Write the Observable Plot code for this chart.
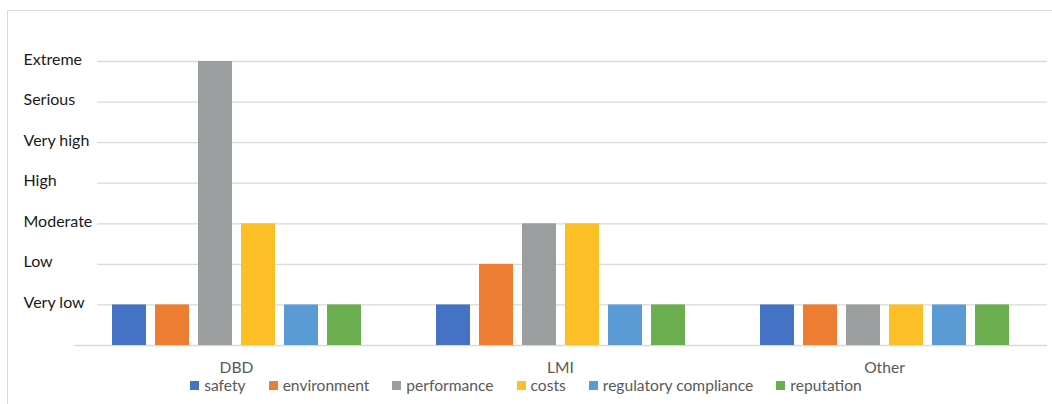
<!DOCTYPE html>
<html>
<head>
<meta charset="utf-8">
<script src="https://cdn.jsdelivr.net/npm/d3@7"></script>
<script src="https://cdn.jsdelivr.net/npm/@observablehq/plot@0.6"></script>
<style>
  html, body { margin: 0; padding: 0; background: #fff; }
  body { position: relative; width: 1052px; height: 404px; overflow: hidden; font-family: Lato, "Open Sans", sans-serif; }
  .layer { position: absolute; left: 0; top: 0; }
  .layer svg { background: transparent !important; }
  #frame { position: absolute; left: 7px; top: 10px; width: 1100px; height: 500px; border: 1px solid #d9d9d9; box-sizing: border-box; pointer-events: none; }
  #legend { position: absolute; left: 0; top: 375px; width: 1052px; height: 20px; display: flex; justify-content: center; align-items: center; gap: 23px; font-size: 15.6px; color: #595959; line-height: 20px; }
  #legend .item { display: flex; align-items: center; gap: 5px; white-space: nowrap; }
  #legend .sw { width: 9px; height: 9px; display: inline-block; }
</style>
</head>
<body>
<div id="grid" class="layer"></div>
<div id="bars" class="layer"></div>
<div id="legend"></div>
<div id="frame"></div>
<script>
// Severity scale shown on the vertical axis (1 = Very low ... 7 = Extreme)
const levels = ["Very low", "Low", "Moderate", "High", "Very high", "Serious", "Extreme"];
const levelValues = [1, 2, 3, 4, 5, 6, 7];

// Groups and impact categories
const groups = ["DBD", "LMI", "Other"];
const series = ["safety", "environment", "performance", "costs", "regulatory compliance", "reputation"];

// Severity per category, one array per group
const dbdValues = [1, 1, 7, 3, 1, 1];
const lmiValues = [1, 2, 3, 3, 1, 1];
const otherValues = [1, 1, 1, 1, 1, 1];

const seriesColors = ["#4472C4", "#ED7D31", "#9B9E9E", "#FDBF26", "#5B9BD5", "#6BAE4F"];

const valuesByGroup = {DBD: dbdValues, LMI: lmiValues, Other: otherValues};
const rows = groups.flatMap(g => series.map((s, i) => ({group: g, series: s, value: valuesByGroup[g][i]})));

const W = 1052, H = 376, MT = 61, MB = 31, MR = 5;

// Background layer: gridlines and severity labels
const gridPlot = Plot.plot({
  width: W, height: H,
  marginTop: MT, marginBottom: MB, marginLeft: 97, marginRight: MR,
  style: {fontFamily: "Lato, 'Open Sans', sans-serif", fontSize: "16px", background: "transparent"},
  y: {domain: [0, 7], axis: null},
  marks: [
    Plot.ruleY(levelValues, {stroke: "#d9d9d9", strokeWidth: 1.3}),
    Plot.ruleY([0], {stroke: "#d9d9d9", strokeWidth: 1.3, insetLeft: -23}),
    Plot.text(levels, {
      y: (d, i) => levelValues[i],
      text: d => d,
      frameAnchor: "left",
      dx: -74,
      dy: -2,
      textAnchor: "start",
      fill: "#1a1a1a",
      fontSize: 16
    })
  ]
});
document.getElementById("grid").appendChild(gridPlot);

// Foreground layer: grouped bars
const barPlot = Plot.plot({
  width: W, height: H,
  marginTop: MT, marginBottom: MB, marginLeft: 73, marginRight: MR,
  style: {fontFamily: "Lato, 'Open Sans', sans-serif", fontSize: "15.6px", color: "#595959", background: "transparent"},
  facet: {data: rows, x: "group"},
  fx: {domain: groups, padding: 0, axis: "bottom", tickSize: 0, tickPadding: 16, label: null},
  x: {domain: series, axis: null, paddingInner: 0.215, paddingOuter: 0.85},
  y: {domain: [0, 7], axis: null},
  color: {domain: series, range: seriesColors},
  marks: [
    Plot.barY(rows, {x: "series", y: "value", fill: "series"})
  ]
});
document.getElementById("bars").appendChild(barPlot);

// Legend below the chart
const legend = document.getElementById("legend");
series.forEach((s, i) => {
  const item = document.createElement("span");
  item.className = "item";
  const sw = document.createElement("span");
  sw.className = "sw";
  sw.style.background = seriesColors[i];
  const label = document.createElement("span");
  label.textContent = s;
  item.appendChild(sw);
  item.appendChild(label);
  legend.appendChild(item);
});
</script>
</body>
</html>
